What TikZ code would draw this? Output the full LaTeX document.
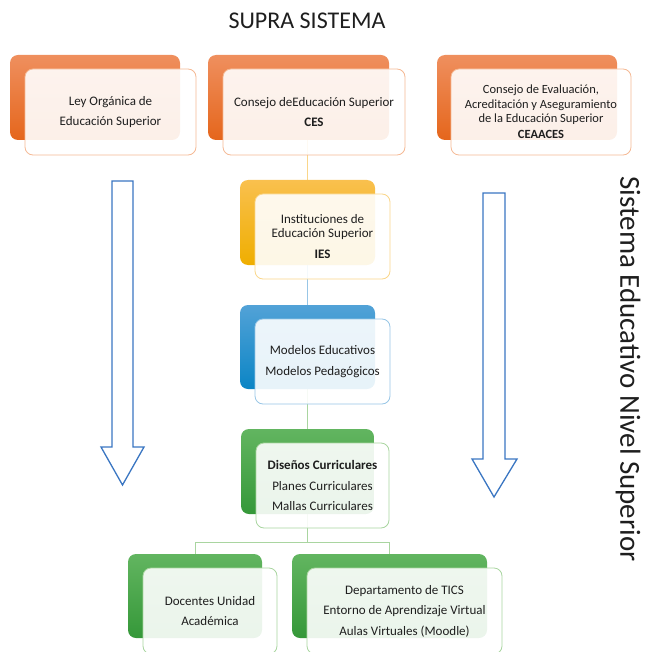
\documentclass[tikz,border=0pt]{standalone}
\usepackage{fontspec}
\setmainfont{Carlito}
\definecolor{orTop}{HTML}{EF8F5E}
\definecolor{orBot}{HTML}{E5661C}
\definecolor{orLine}{HTML}{F5B994}
\definecolor{yeTop}{HTML}{F9C04E}
\definecolor{yeBot}{HTML}{EFAE00}
\definecolor{yeLine}{HTML}{FAD68A}
\definecolor{blTop}{HTML}{52A2D7}
\definecolor{blBot}{HTML}{0B85C5}
\definecolor{blLine}{HTML}{98C6E6}
\definecolor{grTop}{HTML}{62B560}
\definecolor{grBot}{HTML}{359839}
\definecolor{grLine}{HTML}{A9D5A0}
\definecolor{arrowblue}{HTML}{3A76C2}
\definecolor{txt}{HTML}{1E1E1E}
\begin{document}
\begin{tikzpicture}[x=1pt,y=-1pt,
  backbox/.style={rounded corners=8pt, inner sep=0pt, outer sep=0pt, draw=none},
  frontbox/.style={rounded corners=8pt, inner sep=0pt, outer sep=0pt, fill=white, fill opacity=0.9, text opacity=1, line width=0.8pt, align=center, text=txt},
  link/.style={line width=0.8pt},
  blockarrow/.style={draw=arrowblue, fill=white, line width=1.3pt, line join=miter},
  bodyfont/.style={font=\fontsize{13}{20}\selectfont}]
\useasboundingbox (0,0) rectangle (651,652);

% title and side label
\node[anchor=base, font=\fontsize{24}{28}\selectfont, text=txt] (title) at (307,29) {SUPRA SISTEMA};
\node[rotate=-90, font=\fontsize{29}{34}\selectfont, text=txt] (side) at (628,369) {Sistema Educativo Nivel Superior};

% block arrows
\draw[blockarrow] (112,181) -- (133,181) -- (133,447) -- (144,447) -- (122.5,485) -- (101,447) -- (112,447) -- cycle;
\draw[blockarrow] (483,193) -- (505,193) -- (505,459) -- (517,459) -- (494,497) -- (472,459) -- (483,459) -- cycle;

% coordinates for connectors
\coordinate (b4top) at (307.5,180);
\coordinate (b2bot) at (307.5,140);
\coordinate (j) at (0,542);

% back boxes positions (needed for connectors, drawn later)
\path (307.5,222.5) coordinate (c4) (307.5,347) coordinate (c5) (307.5,471.5) coordinate (c6) (195,596) coordinate (c7) (389.5,596) coordinate (c8);

% connectors (behind boxes)
\draw[link, draw=yeLine] (b2bot) -- (b4top);
\draw[link, draw=blLine] (c4) -- (c5);
\draw[link, draw=grLine] (c5) -- (c6);
\draw[link, draw=grLine] (c6) -- (c6 |- j) -| (c7);
\draw[link, draw=grLine] (c6 |- j) -| (c8);

% top row
\node[backbox, top color=orTop, bottom color=orBot, minimum width=170pt, minimum height=85pt] (b1) at (95,97.5) {};
\node[backbox, top color=orTop, bottom color=orBot, minimum width=181pt, minimum height=85pt] (b2) at (298.5,97.5) {};
\node[backbox, top color=orTop, bottom color=orBot, minimum width=180pt, minimum height=85pt] (b3) at (527,97.5) {};
\node[frontbox, draw=orLine, minimum width=171pt, minimum height=86pt, font=\fontsize{13}{20}\selectfont] (f1) at (110.5,112) {Ley Orgánica de\\Educación Superior};
\node[frontbox, draw=orLine, minimum width=182pt, minimum height=86pt, font=\fontsize{13}{20}\selectfont] (f2) at (314,112) {Consejo deEducación Superior\\\textbf{CES}};
\node[frontbox, draw=orLine, minimum width=180pt, minimum height=86pt, font=\fontsize{12.5}{14.5}\selectfont] (f3) at (541,112) {Consejo de Evaluación,\\Acreditación y Aseguramiento\\de la Educación Superior\\[1.5pt]\textbf{CEAACES}};

% IES
\node[backbox, top color=yeTop, bottom color=yeBot, minimum width=135pt, minimum height=85pt] (b4) at (c4) {};
\node[frontbox, draw=yeLine, minimum width=135pt, minimum height=85pt, font=\fontsize{13}{14}\selectfont] (f4) at (322.5,236.5) {Instituciones de\\Educación Superior\\[7pt]\textbf{IES}};

% Modelos
\node[backbox, top color=blTop, bottom color=blBot, minimum width=135pt, minimum height=84pt] (b5) at (c5) {};
\node[frontbox, draw=blLine, minimum width=135pt, minimum height=85pt, font=\fontsize{13}{21}\selectfont] (f5) at (322.5,361.5) {Modelos Educativos\\Modelos Pedagógicos};

% Disenos
\node[backbox, top color=grTop, bottom color=grBot, minimum width=133pt, minimum height=85pt] (b6) at (c6) {};
\node[frontbox, draw=grLine, minimum width=133pt, minimum height=85pt, font=\fontsize{13}{20.5}\selectfont] (f6) at (322.5,485.5) {\textbf{Diseños Curriculares}\\Planes Curriculares\\Mallas Curriculares};

% bottom row
\node[backbox, top color=grTop, bottom color=grBot, minimum width=134pt, minimum height=84pt] (b7) at (c7) {};
\node[frontbox, draw=grLine, minimum width=134pt, minimum height=86pt, font=\fontsize{13}{20}\selectfont] (f7) at (210,611) {Docentes Unidad\\Académica};
\node[backbox, top color=grTop, bottom color=grBot, minimum width=195pt, minimum height=84pt] (b8) at (c8) {};
\node[frontbox, draw=grLine, minimum width=195pt, minimum height=86pt, font=\fontsize{13}{20.5}\selectfont] (f8) at (404.5,611) {Departamento de TICS\\Entorno de Aprendizaje Virtual\\Aulas Virtuales (Moodle)};
\end{tikzpicture}
\end{document}
